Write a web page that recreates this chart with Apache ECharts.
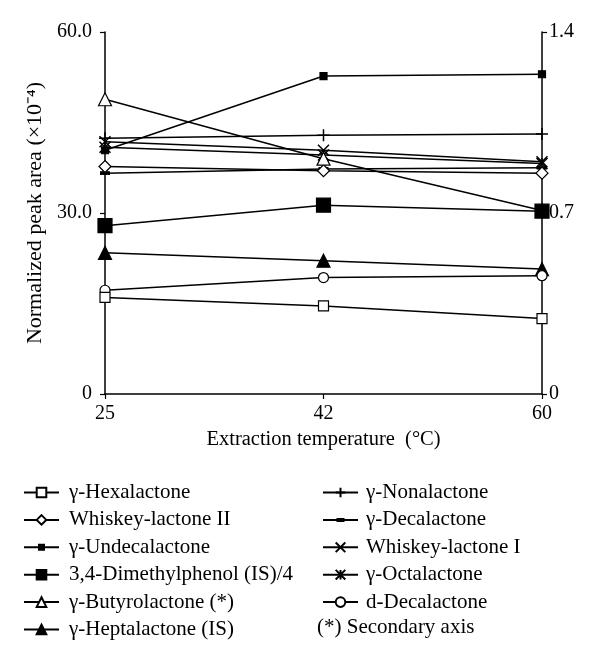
<!DOCTYPE html>
<html>
<head>
<meta charset="utf-8">
<script src="https://cdn.jsdelivr.net/npm/echarts@6/dist/echarts.min.js"></script>
<style>
html,body{margin:0;padding:0;background:#fff;}
#chart{width:600px;height:664px;}
</style>
</head>
<body>
<div id="chart"></div>
<script>
// ---- data ----
const categories = ['25', '42', '60'];
const leftTicks = ['0', '30.0', '60.0'];
const rightTicks = ['0', '0.7', '1.4'];

const hexalactone      = [16.0, 14.6, 12.5];
const whiskeyLactoneII = [37.7, 37.0, 36.6];
const undecalactone    = [40.4, 52.7, 53.0];
const dimethylphenol4  = [27.9, 31.3, 30.3];
const butyrolactone    = [1.14, 0.91, 0.71];   // secondary axis
const heptalactone     = [23.4, 22.1, 20.7];
const nonalactone      = [42.4, 42.9, 43.1];
const decalactone      = [36.6, 37.3, 37.5];
const whiskeyLactoneI  = [41.8, 40.4, 38.5];
const octalactone      = [40.9, 39.6, 38.2];
const dDecalactone     = [17.2, 19.3, 19.6];

const names = {
  hex: 'γ-Hexalactone',
  wl2: 'Whiskey-lactone II',
  und: 'γ-Undecalactone',
  dmp: '3,4-Dimethylphenol (IS)/4',
  but: 'γ-Butyrolactone (*)',
  hep: 'γ-Heptalactone (IS)',
  non: 'γ-Nonalactone',
  dec: 'γ-Decalactone',
  wl1: 'Whiskey-lactone I',
  oct: 'γ-Octalactone',
  ddec: 'd-Decalactone'
};

const FONT = 'Liberation Serif';
const BLACK = '#000';

function mk(name, data, symbol, size, fill, extra) {
  return Object.assign({
    name: name,
    type: 'line',
    data: data,
    symbol: symbol,
    symbolSize: size,
    showAllSymbol: true,
    lineStyle: { color: BLACK, width: 1.5 },
    itemStyle: { color: fill, borderColor: BLACK, borderWidth: 1.2 },
    emphasis: { disabled: true },
    animation: false
  }, extra || {});
}

const PLUS = 'path://M0,5 L10,5 M5,0 L5,10';
const CROSS = 'path://M0,0 L10,10 M10,0 L0,10';
const STAR = 'path://M0,0 L10,10 M10,0 L0,10 M5,0 L5,10';
const strokeStyle = { itemStyle: { color: BLACK, borderColor: BLACK, borderWidth: 1.5 } };

// legend icons (35 x 12 box) for the small filled markers
const BOX = 'M0,0h0.01v0.01h-0.01z M34.99,11.99h0.01v0.01h-0.01z ';
const LINE = 'M0,5h35v2h-35z ';
const DEC_ICON = 'path://' + BOX + LINE + 'M13.5,4h8v4h-8z';
const UND_ICON = 'path://' + BOX + LINE + 'M14,2.5h7v7h-7z';

const series = [
  mk(names.non, nonalactone, PLUS, 12, BLACK, strokeStyle),
  mk(names.wl1, whiskeyLactoneI, CROSS, 11, BLACK, strokeStyle),
  mk(names.oct, octalactone, STAR, 11, BLACK, strokeStyle),
  mk(names.dec, decalactone, 'rect', [8, 3], BLACK),
  mk(names.wl2, whiskeyLactoneII, 'diamond', 12, '#fff'),
  mk(names.und, undecalactone, 'rect', 7, BLACK),
  mk(names.but, butyrolactone, 'triangle', 13, '#fff', { yAxisIndex: 1 }),
  mk(names.dmp, dimethylphenol4, 'rect', 14, BLACK),
  mk(names.hep, heptalactone, 'triangle', 13, BLACK),
  mk(names.ddec, dDecalactone, 'circle', 10, '#fff'),
  mk(names.hex, hexalactone, 'rect', 10, '#fff')
];

const legendText = { fontFamily: FONT, fontSize: 21, color: BLACK, lineHeight: 21, padding: [0, 0, 0, 5] };

const option = {
  backgroundColor: '#fff',
  animation: false,
  textStyle: { fontFamily: FONT, color: BLACK },
  grid: { left: 105, right: 58, top: 32, bottom: 270 },
  xAxis: {
    type: 'category',
    data: categories,
    boundaryGap: false,
    name: 'Extraction temperature  (°C)',
    nameLocation: 'middle',
    nameGap: 35,
    nameTextStyle: { fontFamily: FONT, fontSize: 20.5, color: BLACK },
    axisLine: { lineStyle: { color: BLACK, width: 1.5 } },
    axisTick: { length: 5, lineStyle: { color: BLACK, width: 1.2 } },
    axisLabel: { fontFamily: FONT, fontSize: 20, color: BLACK, margin: 10 },
    splitLine: { show: false }
  },
  yAxis: [
    {
      type: 'value', min: 0, max: 60, interval: 30,
      name: 'Normalized peak area (×10⁻⁴)',
      nameLocation: 'middle',
      nameGap: 57,
      nameRotate: 90,
      nameTextStyle: { fontFamily: FONT, fontSize: 22, color: BLACK },
      axisLine: { show: true, lineStyle: { color: BLACK, width: 1.5 } },
      axisTick: { show: true, length: 5, lineStyle: { color: BLACK, width: 1.2 } },
      axisLabel: { fontFamily: FONT, fontSize: 20, color: BLACK, margin: 13,
        formatter: function (v) { return leftTicks[Math.round(v / 30)]; } },
      splitLine: { show: false }
    },
    {
      type: 'value', min: 0, max: 1.4, interval: 0.7, position: 'right',
      axisLine: { show: true, lineStyle: { color: BLACK, width: 1.5 } },
      axisTick: { show: true, length: 5, lineStyle: { color: BLACK, width: 1.2 } },
      axisLabel: { fontFamily: FONT, fontSize: 20, color: BLACK, margin: 7,
        formatter: function (v) { return rightTicks[Math.round(v / 0.7)]; } },
      splitLine: { show: false }
    }
  ],
  legend: [
    {
      orient: 'vertical', left: 18, top: 477,
      itemWidth: 35, itemHeight: 12, itemGap: 6.4,
      textStyle: legendText,
      selectedMode: false,
      data: [names.hex, names.wl2,
        { name: names.und, icon: UND_ICON, itemStyle: { color: BLACK, borderWidth: 0 } },
        names.dmp, names.but, names.hep]
    },
    {
      orient: 'vertical', left: 317, top: 477,
      itemWidth: 35, itemHeight: 12, itemGap: 6.4,
      textStyle: Object.assign({}, legendText, { padding: [0, 0, 0, 3] }),
      selectedMode: false,
      data: [names.non,
        { name: names.dec, icon: DEC_ICON, itemStyle: { color: BLACK, borderWidth: 0 } },
        names.wl1, names.oct, names.ddec]
    }
  ],
  graphic: [
    {
      type: 'text', left: 317, top: 617,
      style: { text: '(*) Secondary axis', fontFamily: FONT, fontSize: 21, fill: BLACK }
    }
  ],
  series: series
};

const chart = echarts.init(document.getElementById('chart'), null, { renderer: 'canvas' });
chart.setOption(option);
</script>
</body>
</html>
